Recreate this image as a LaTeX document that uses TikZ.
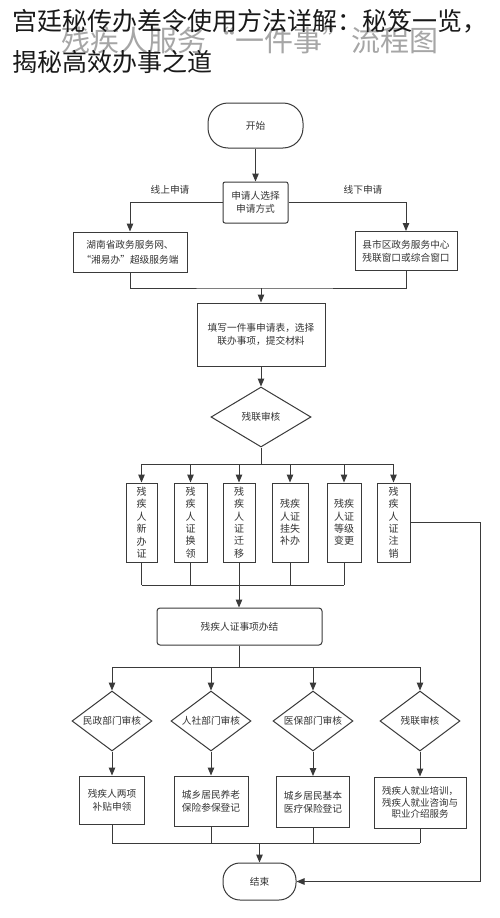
\documentclass[tikz,border=0pt]{standalone}
\usepackage{fontspec}
\setmainfont{Noto Sans CJK SC}
\usetikzlibrary{arrows.meta,shapes.geometric}
\definecolor{lnc}{HTML}{3A3A3A}
\definecolor{txc}{HTML}{333333}
\definecolor{wmc}{HTML}{A6A6A6}
\tikzset{
  ln/.style={draw=lnc, line width=1pt},
  arr/.style={ln, -{Triangle[length=8pt,width=6.5pt]}},
  bx/.style={ln, rectangle, inner sep=0pt, align=center, text=txc, font=\fontsize{9.7}{13}\selectfont},
  vbx/.style={bx, minimum height=79pt, font=\fontsize{10}{12.4}\selectfont},
  dia/.style={ln, diamond, shape aspect=1.33, inner sep=0pt, align=center, text=txc, font=\fontsize{9.7}{13}\selectfont},
  lbl/.style={text=txc, font=\fontsize{9.7}{13}\selectfont, inner sep=1pt},
}
\begin{document}
\begin{tikzpicture}[x=1pt,y=-1pt]
\useasboundingbox (0,0) rectangle (500,918);
\fill[white] (0,0) rectangle (500,918);
% title and watermark
\node[text=wmc, font=\fontsize{29}{29}\selectfont, inner sep=0pt] (wm) at (250,40) {残疾人服务“一件事”流程图};
\node[anchor=west, text=black!90, font=\fontsize{25}{25}\selectfont, inner sep=0pt] (t1) at (12,21) {宫廷秘传办差令使用方法详解：秘笈一览，};
\node[anchor=west, text=black!90, font=\fontsize{25}{25}\selectfont, inner sep=0pt] (t2) at (12,62) {揭秘高效办事之道};
% top part
\node[bx, rounded corners=20pt, minimum width=95pt, minimum height=45pt] (start) at (255.5,125.5) {开始};
\node[bx, rounded corners=2pt, minimum width=65pt, minimum height=41pt] (choose) at (255.5,202.5) {申请人选择\\申请方式};
\node[bx, minimum width=114pt, minimum height=40pt, font=\fontsize{9.7}{15}\selectfont] (left) at (130,252) {湖南省政务服务网、\\“湘易办”超级服务端};
\node[bx, minimum width=102pt, minimum height=39pt] (right) at (406,251) {县市区政务服务中心\\残联窗口或综合窗口};
\coordinate (j1) at (261,288);
\node[bx, minimum width=128pt, minimum height=63pt] (fill) at (261,334.5) {填写一件事申请表，选择\\联办事项，提交材料};
\node[dia, minimum width=100pt, minimum height=60pt] (d0) at (261,417) {残联审核};
\coordinate (bus1) at (261,464);
% six certificate boxes
\node[vbx, minimum width=31pt] (b1) at (141.5,522.5) {残\\疾\\人\\新\\办\\证};
\node[vbx, minimum width=33pt] (b2) at (190.5,522.5) {残\\疾\\人\\证\\换\\领};
\node[vbx, minimum width=32pt] (b3) at (239,522.5) {残\\疾\\人\\证\\迁\\移};
\node[vbx, minimum width=36pt] (b4) at (290,522.5) {残疾\\人证\\挂失\\补办};
\node[vbx, minimum width=34pt] (b5) at (344,522.5) {残疾\\人证\\等级\\变更};
\node[vbx, minimum width=33pt] (b6) at (393.5,522.5) {残\\疾\\人\\证\\注\\销};
\coordinate (bus2) at (239,585);
\node[bx, rounded corners=3pt, minimum width=165pt, minimum height=37pt] (done) at (239.5,626.5) {残疾人证事项办结};
\coordinate (bus3) at (239.5,667);
% department reviews
\node[dia, minimum width=80pt, minimum height=60pt] (e1) at (112,721) {民政部门审核};
\node[dia, minimum width=80pt, minimum height=60pt] (e2) at (211,721) {人社部门审核};
\node[dia, minimum width=80pt, minimum height=60pt] (e3) at (313,721) {医保部门审核};
\node[dia, minimum width=80pt, minimum height=60pt] (e4) at (420,721) {残联审核};
\node[bx, minimum width=65pt, minimum height=48pt] (f1) at (112,800) {残疾人两项\\补贴申领};
\node[bx, minimum width=74pt, minimum height=50pt] (f2) at (211,801) {城乡居民养老\\保险参保登记};
\node[bx, minimum width=73pt, minimum height=51pt] (f3) at (313,802) {城乡居民基本\\医疗保险登记};
\node[bx, minimum width=92pt, minimum height=51pt, font=\fontsize{9.5}{11.8}\selectfont] (f4) at (420,802.5) {残疾人就业培训，\\残疾人就业咨询与\\职业介绍服务};
\coordinate (bus4) at (259.5,843);
\node[bx, rounded corners=17pt, minimum width=73pt, minimum height=37pt] (end) at (259.5,881.5) {结束};
% connectors
\draw[arr] (start) -- (choose);
\draw[arr] (choose.west) -| (left.north);
\node[lbl] (lon) at (170,190) {线上申请};
\draw[arr] (choose.east) -| (right.north);
\node[lbl] (loff) at (363,190) {线下申请};
\draw[ln] (left.south) |- (j1) -| (right.south);
\draw[arr] (j1) -- (fill.north);
\draw[arr] (fill) -- (d0);
\draw[ln] (d0.south) -- (bus1);
\draw[ln] (b1.north|-bus1) -- (b6.north|-bus1);
\foreach \b in {b1,b2,b3,b4,b5,b6} \draw[arr] (\b.north|-bus1) -- (\b.north);
\foreach \b in {b1,b2,b4,b5} \draw[ln] (\b.south) -- (\b.south|-bus2);
\draw[ln] (b1.south|-bus2) -- (b5.south|-bus2);
\draw[arr] (b3.south) -- (b3.south|-done.north);
\draw[ln] (done.south) -- (bus3);
\draw[ln] (e1.north|-bus3) -- (e4.north|-bus3);
\foreach \e in {e1,e2,e3,e4} \draw[arr] (\e.north|-bus3) -- (\e.north);
\foreach \i in {1,2,3,4} \draw[arr] (e\i.south) -- (f\i.north);
\foreach \f in {f1,f2,f3,f4} \draw[ln] (\f.south) -- (\f.south|-bus4);
\draw[ln] (f1.south|-bus4) -- (f4.south|-bus4);
\draw[arr] (bus4) -- (end.north);
\draw[arr] (b6.east) -- ++(70,0) |- (end.east);
\end{tikzpicture}
\end{document}
